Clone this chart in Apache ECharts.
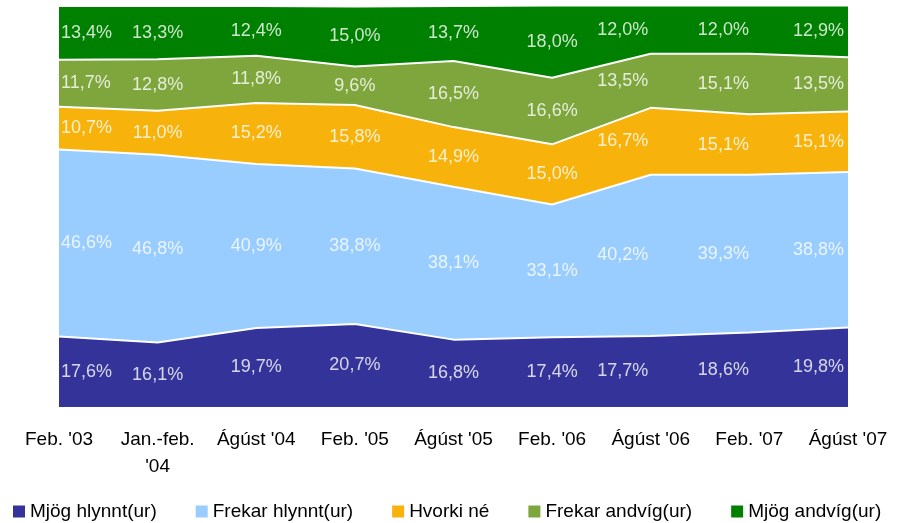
<!DOCTYPE html>
<html>
<head>
<meta charset="utf-8">
<script src="https://cdn.jsdelivr.net/npm/echarts@6/dist/echarts.min.js"></script>
<style>
  html, body { margin: 0; padding: 0; background: #fff; }
  #container { width: 903px; height: 523px; }
</style>
</head>
<body>
<div id="container"></div>
<script>
// flokkar (x-ás)
var categories = ["Feb. '03", "Jan.-feb.\n'04", "Ágúst '04", "Feb. '05", "Ágúst '05", "Feb. '06", "Ágúst '06", "Feb. '07", "Ágúst '07"];

// hlutföll í %, neðst til efst
var mjogHlynnt   = [17.6, 16.1, 19.7, 20.7, 16.8, 17.4, 17.7, 18.6, 19.8];
var frekarHlynnt = [46.6, 46.8, 40.9, 38.8, 38.1, 33.1, 40.2, 39.3, 38.8];
var hvorkiNe     = [10.7, 11.0, 15.2, 15.8, 14.9, 15.0, 16.7, 15.1, 15.1];
var frekarAndvig = [11.7, 12.8, 11.8,  9.6, 16.5, 16.6, 13.5, 15.1, 13.5];
var mjogAndvig   = [13.4, 13.3, 12.4, 15.0, 13.7, 18.0, 12.0, 12.0, 12.9];

var seriesNames = ['Mjög hlynnt(ur)', 'Frekar hlynnt(ur)', 'Hvorki né', 'Frekar andvíg(ur)', 'Mjög andvíg(ur)'];
var seriesData = [mjogHlynnt, frekarHlynnt, hvorkiNe, frekarAndvig, mjogAndvig];
var colors = ['#333399', '#99ccff', '#f7b20b', '#7fa63d', '#008000'];

// tilfærsla merkinga til hliðar (px), eins og í frumritinu
var labelNudgeX = [2, 0, 0, 0, 0, 0, -28, -26, -4];

var font = 'Liberation Sans';

function initCharts() {
	var dom = document.getElementById( 'container' );
	var myChart = echarts.init( dom );
	var series = [];

	// svæðin sjálf
	seriesData.forEach( function( arr, i ) {
		series.push( {
			name: seriesNames[i],
			type: 'line',
			stack: 'heild',
			data: arr,
			symbol: 'none',
			z: 10 - i,
			lineStyle: { color: '#fff', width: 2 },
			areaStyle: { color: colors[i], opacity: 1 },
			itemStyle: { color: colors[i] },
			emphasis: { disabled: true }
		} );
	} );

	// merkingar í miðju hvers svæðis
	var base = categories.map( function() { return 0; } );
	seriesData.forEach( function( arr, i ) {
		var pts = arr.map( function( v, j ) {
			var mid = base[j] + v / 2;
			base[j] += v;
			var lbl = { offset: [labelNudgeX[j], 0] };
			if ( j === 0 ) { lbl.align = 'left'; }
			if ( j === categories.length - 1 ) { lbl.align = 'right'; }
			return { value: [j, mid, v], label: lbl };
		} );
		series.push( {
			type: 'scatter',
			data: pts,
			symbolSize: 0,
			z: 20,
			silent: true,
			label: {
				show: true,
				position: 'inside',
				color: '#fff',
				fontFamily: font,
				fontSize: 18,
				formatter: function( p ) {
					return p.value[2].toFixed( 1 ).replace( '.', ',' ) + '%';
				}
			}
		} );
	} );

	var option = {
		animation: false,
		color: colors,
		grid: { left: 59, right: 55, top: 6, bottom: 116, containLabel: false },
		legend: {
			data: seriesNames,
			left: 8,
			top: 497,
			icon: 'rect',
			itemWidth: 12,
			itemHeight: 12,
			itemGap: 39,
			textStyle: { fontFamily: font, fontSize: 19, color: '#000' }
		},
		xAxis: {
			type: 'category',
			boundaryGap: false,
			data: categories,
			axisLine: { show: false },
			axisTick: { show: false },
			axisLabel: {
				fontFamily: font,
				fontSize: 19,
				color: '#000',
				margin: 19,
				lineHeight: 27,
				interval: 0
			}
		},
		yAxis: {
			type: 'value',
			min: 0,
			max: 100,
			show: false,
			splitLine: { show: false }
		},
		series: series
	};

	myChart.setOption( option, true );
}
initCharts();
</script>
</body>
</html>
